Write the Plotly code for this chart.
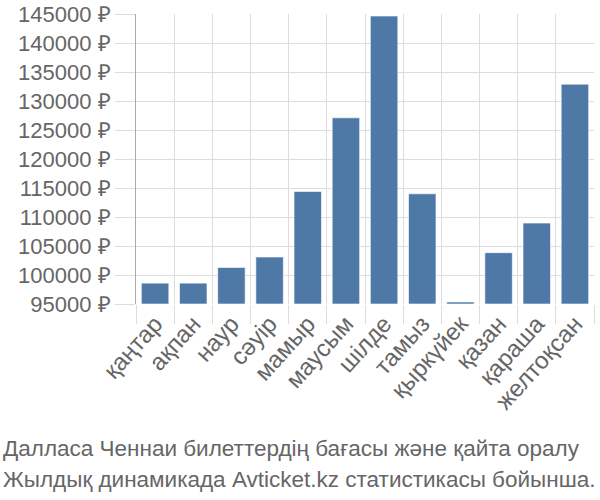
import plotly.graph_objects as go

months = ["қаңтар", "ақпан", "наур", "сәуір", "мамыр", "маусым", "шілде",
          "тамыз", "қыркүйек", "қазан", "қараша", "желтоқсан"]
prices = [98600, 98600, 101300, 103100, 114400, 127100, 144650,
          114000, 95350, 103850, 108950, 132900]
y_ticks = [95000, 100000, 105000, 110000, 115000, 120000, 125000,
           130000, 135000, 140000, 145000]
y_tick_labels = [f"{v} ₽" for v in y_ticks]
title_lines = ["Далласа Ченнаи билеттердің бағасы және қайта оралу",
               "Жылдық динамикада Avticket.kz статистикасы бойынша."]

base = 95000
fig = go.Figure(go.Bar(
    x=months,
    y=[p - base for p in prices],
    base=base,
    marker=dict(color="#4e79a7", line=dict(color="rgba(255,255,255,0.6)", width=1)),
    width=0.72,
))

L, R, T, B = 136, 6, 14, 196
W, H = 600, 500
pw, ph = W - L - R, H - T - B

title_font = dict(size=22.5, color="#666",
                  family="Liberation Sans Narrow, Liberation Sans, Arial")

fig.update_layout(
    width=W, height=H,
    margin=dict(l=L, r=R, t=T, b=B, pad=0, autoexpand=False),
    plot_bgcolor="white", paper_bgcolor="white",
    showlegend=False,
    font=dict(family="Liberation Sans, Arial, sans-serif", color="#666"),
    xaxis=dict(
        type="category",
        tickson="boundaries",
        showgrid=True, gridcolor="#dddddd", gridwidth=1,
        ticks="outside", ticklen=19, tickcolor="#dddddd",
        tickangle=-48,
        tickfont=dict(size=24, color="#666"),
        showline=False, automargin=False,
        range=[-0.5, 11.5],
    ),
    yaxis=dict(
        range=[95000, 145000],
        tickvals=y_ticks, ticktext=y_tick_labels,
        showgrid=True, gridcolor="#dddddd", gridwidth=1,
        ticks="outside", ticklen=20, tickcolor="#dddddd",
        tickfont=dict(size=22, color="#666"),
        showline=True, linecolor="#aaaaaa", linewidth=1,
        zeroline=False, automargin=False,
    ),
    annotations=[
        dict(text=title_lines[0], xref="paper", yref="paper",
             x=(1 - L) / pw, y=(T + ph - 448) / ph, xanchor="left", yanchor="middle",
             showarrow=False, font=title_font),
        dict(text=title_lines[1], xref="paper", yref="paper",
             x=(1 - L) / pw, y=(T + ph - 479) / ph, xanchor="left", yanchor="middle",
             showarrow=False, font=title_font),
    ],
)

fig.write_html("out.html")
